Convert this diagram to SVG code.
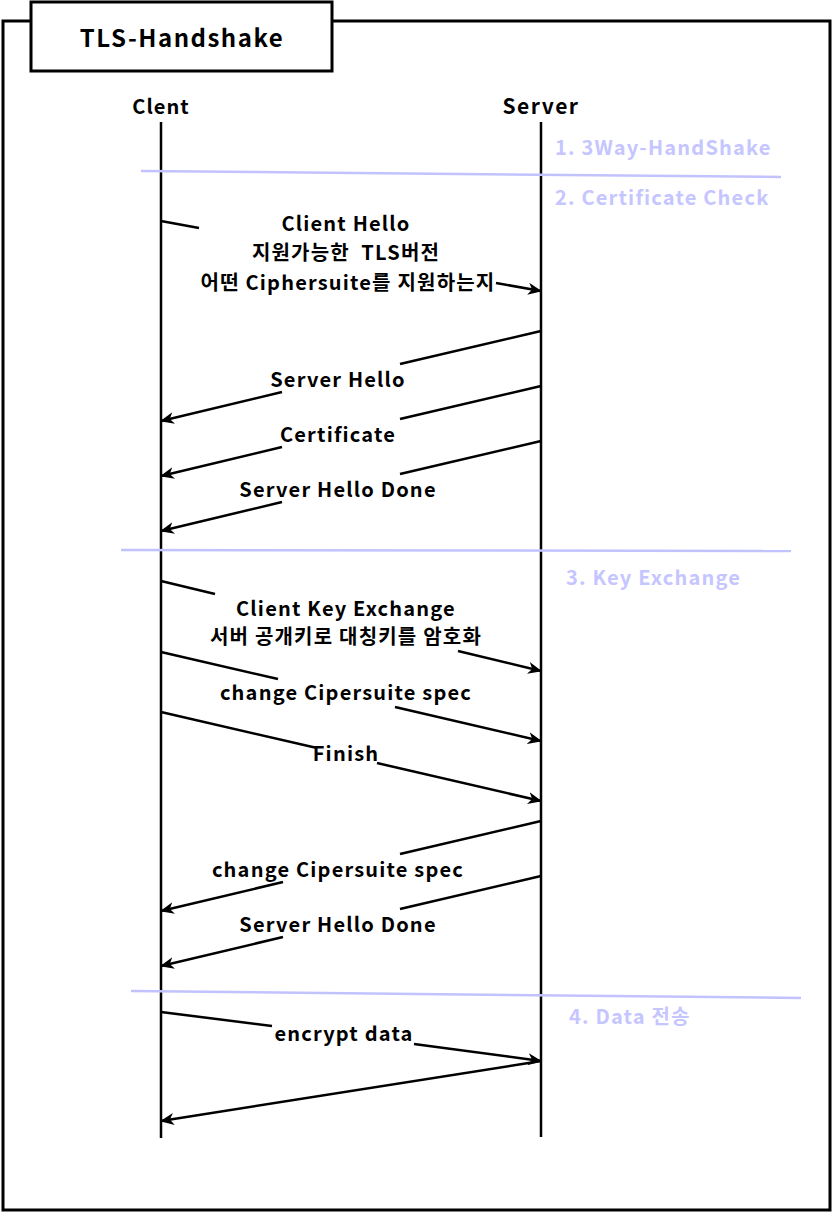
<svg xmlns="http://www.w3.org/2000/svg" width="833" height="1213" viewBox="0 0 833 1213">
<defs>
<style>
.frame{fill:none;stroke:#000;stroke-width:3}
.life{fill:none;stroke:#000;stroke-width:2.5}
.sep{fill:none;stroke:#c2c2ff;stroke-width:2.5}
.msg{fill:none;stroke:#000;stroke-width:2.5;marker-end:url(#ah)}
.seg{fill:none;stroke:#000;stroke-width:2.5}
.t{font-family:"Noto Sans CJK KR","Noto Sans",sans-serif;font-weight:bold;fill:#000;text-anchor:middle}
.lbl{font-size:20px;letter-spacing:1.2px}
.ph{font-family:"Noto Sans CJK KR","Noto Sans",sans-serif;font-weight:bold;fill:#c5c5ff;font-size:20px;letter-spacing:1.2px}
</style>
<marker id="ah" viewBox="0 0 14 12" refX="13" refY="6" markerWidth="14" markerHeight="12" markerUnits="userSpaceOnUse" orient="auto">
<path d="M0,0 L14,6 L0,12 L4,6 Z" fill="#000"/>
</marker>
</defs>
<rect width="833" height="1213" fill="#fff"/>

<g id="frame">
<path class="frame" d="M31,21 H3 V1210 H830 V21 H332"/>
</g>

<g id="title">
<rect x="31" y="2" width="301" height="69" fill="#fff" stroke="#000" stroke-width="3"/>
<text class="t" x="182" y="47" font-size="24" letter-spacing="1.5">TLS-Handshake</text>
</g>

<g id="client">
<text class="t" x="161" y="114" font-size="20" letter-spacing="1">Clent</text>
<line class="life" x1="161" y1="122" x2="161" y2="1138"/>
</g>

<g id="server">
<text class="t" x="541" y="114" font-size="21" letter-spacing="1.5">Server</text>
<line class="life" x1="541" y1="122" x2="541" y2="1137"/>
</g>

<g id="phases">
<line class="sep" x1="141" y1="171" x2="781" y2="177"/>
<text class="ph" x="555" y="155">1. 3Way-HandShake</text>
<text class="ph" x="555" y="205">2. Certificate Check</text>
<line class="sep" x1="121" y1="550" x2="791" y2="551"/>
<text class="ph" x="566" y="585">3. Key Exchange</text>
<line class="sep" x1="131" y1="991" x2="801" y2="998"/>
<text class="ph" x="569" y="1024">4. Data 전송</text>
</g>

<g id="connectors">
<path class="seg" d="M161,221 L199,228"/>
<path class="msg" d="M496,283 L541,291"/>
<path class="seg" d="M541,331 L400,364"/>
<path class="msg" d="M282,392 L161,421"/>
<path class="seg" d="M541,386 L400,419"/>
<path class="msg" d="M282,447 L161,476"/>
<path class="seg" d="M541,441 L400,474"/>
<path class="msg" d="M282,502 L161,531"/>
<path class="seg" d="M161,581 L215,594"/>
<path class="msg" d="M458,651 L541,671"/>
<path class="seg" d="M161,652 L278,679"/>
<path class="msg" d="M395,707 L541,741"/>
<path class="seg" d="M161,712 L317,748"/>
<path class="msg" d="M377,763 L541,801"/>
<path class="seg" d="M541,821 L400,854"/>
<path class="msg" d="M283,882 L161,911"/>
<path class="seg" d="M541,876 L400,909"/>
<path class="msg" d="M283,937 L161,966"/>
<path class="seg" d="M161,1012 L272,1026"/>
<path class="msg" d="M414,1044 L541,1061"/>
<path class="msg" d="M541,1061 L161,1121"/>
</g>

<g id="labels">
<text class="t lbl" x="346" y="231">Client Hello</text>
<text class="t lbl" x="346" y="260" xml:space="preserve">지원가능한  TLS버전</text>
<text class="t lbl" x="348" y="290">어떤 Ciphersuite를 지원하는지</text>
<text class="t lbl" x="338" y="387">Server Hello</text>
<text class="t lbl" x="338" y="442">Certificate</text>
<text class="t lbl" x="338" y="497">Server Hello Done</text>
<text class="t lbl" x="346" y="616">Client Key Exchange</text>
<text class="t lbl" x="346" y="644">서버 공개키로 대칭키를 암호화</text>
<text class="t lbl" x="346" y="700">change Cipersuite spec</text>
<text class="t lbl" x="346" y="761">Finish</text>
<text class="t lbl" x="338" y="877">change Cipersuite spec</text>
<text class="t lbl" x="338" y="932">Server Hello Done</text>
<text class="t lbl" x="344" y="1041">encrypt data</text>
</g>
</svg>
